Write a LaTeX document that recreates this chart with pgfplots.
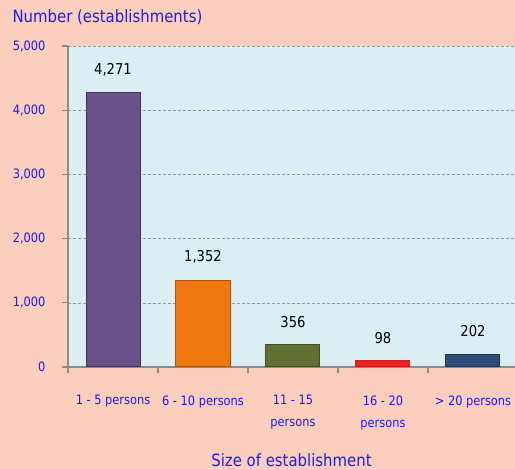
\documentclass[border=0pt]{standalone}
\usepackage{fontspec}
\setmainfont{DejaVu Sans}[FakeStretch=0.88]
\usepackage{pgfplots}
\pgfplotsset{compat=1.18}

\definecolor{bgsalmon}{RGB}{252,206,190}
\definecolor{plotbg}{RGB}{219,238,244}
\definecolor{lblue}{RGB}{28,28,238}
\definecolor{axgray}{RGB}{140,140,140}
\definecolor{cpurple}{RGB}{103,82,137}
\definecolor{corange}{RGB}{240,120,16}
\definecolor{colive}{RGB}{96,112,50}
\definecolor{cred}{RGB}{240,32,32}
\definecolor{cnavy}{RGB}{46,76,122}

\begin{document}
\begin{tikzpicture}[x=1bp,y=1bp]
  \fill[bgsalmon] (0,0) rectangle (515,469);
  \begin{axis}[
      at={(68bp,102bp)}, anchor=south west,
      scale only axis, width=447bp, height=321bp,
      axis background/.style={fill=plotbg},
      xmin=-0.5, xmax=4.467, ymin=0, ymax=5000,
      axis x line=bottom, axis y line=left,
      axis line style={-, draw=axgray, line width=1.5pt},
      tick align=outside,
      ytick={0,1000,...,5000},
      ymajorgrids,
      grid style={densely dashed, draw=black!40, line width=0.5pt},
      major tick length=6bp,
      tick style={draw=axgray, line width=1.2pt},
      scaled y ticks=false,
      /pgf/number format/assume math mode=true,
      yticklabel={\fontsize{13}{15}\selectfont\pgfmathprintnumber[1000 sep={,}]{\tick}},
      yticklabel style={text=lblue, xshift=-13bp},
      xtick={-0.5,0.5,1.5,2.5,3.5},
      xticklabels={},
      extra x ticks={0,1,2,3,4},
      extra x tick labels={{1 - 5 persons},{6 - 10 persons},{11 - 15\\persons},{16 - 20\\persons},{> 20 persons}},
      extra x tick style={major tick length=0pt, grid=none,
        xticklabel style={font=\fontsize{13}{22}\selectfont, text=lblue, align=center, anchor=north, yshift=-25bp}},
      xlabel={Size of establishment},
      xlabel style={font=\fontsize{17}{20}\selectfont, text=lblue, at={(rel axis cs:0.5,0)}, anchor=center, yshift=-93bp},
      ylabel={Number (establishments)},
      ylabel style={font=\fontsize{17}{20}\selectfont, text=lblue, rotate=-90, at={(rel axis cs:0,1)}, anchor=west, xshift=-59bp, yshift=29bp},
      ybar, bar width=54bp, bar shift=0pt,
      nodes near coords={\pgfmathprintnumber[1000 sep={,}]{\pgfplotspointmeta}},
      nodes near coords style={font=\fontsize{15}{18}\selectfont, text=black, anchor=south, yshift=13bp},
    ]
    \addplot[fill=cpurple, draw=cpurple!65!black, line width=1pt] coordinates {(0,4271)};
    \addplot[fill=corange, draw=corange!70!black, line width=1pt] coordinates {(1,1352)};
    \addplot[fill=colive, draw=colive!70!black, line width=1pt] coordinates {(2,356)};
    \addplot[fill=cred, draw=cred!85!black, line width=1pt] coordinates {(3,98)};
    \addplot[fill=cnavy, draw=cnavy!70!black, line width=1pt] coordinates {(4,202)};
  \end{axis}
  \pgfresetboundingbox
  \path[use as bounding box] (0,0) rectangle (515,469);
\end{tikzpicture}
\end{document}
